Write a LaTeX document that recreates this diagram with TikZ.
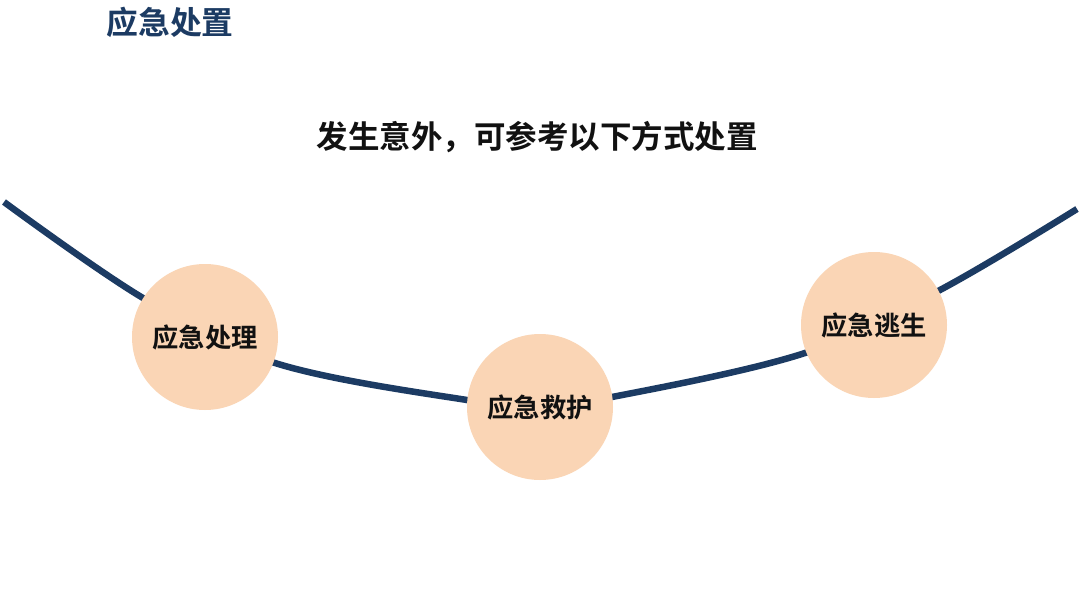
\documentclass[tikz,border=0pt]{standalone}
\usepackage{fontspec}
\newfontfamily\cjk{Noto Sans CJK SC}[BoldFont={Noto Sans CJK SC Bold}]
\definecolor{navy}{HTML}{1C3B63}
\definecolor{peach}{HTML}{FAD5B5}
\definecolor{ink}{HTML}{111111}
\begin{document}
\begin{tikzpicture}[x=1pt,y=-1pt,
  circ/.style={circle,fill=peach,minimum size=146pt,inner sep=0pt,text=ink,font=\cjk\bfseries\fontsize{26.3}{26.3}\selectfont},
  title/.style={text=navy,font=\cjk\bfseries\fontsize{31.8}{31.8}\selectfont,inner sep=0pt},
  subtitle/.style={text=ink,font=\cjk\bfseries\fontsize{31.5}{31.5}\selectfont,inner sep=0pt},
  arcline/.style={draw=navy,line width=6.5pt}]
\useasboundingbox[fill=white] (0,0) rectangle (1080,608);
\node[title] (t) at (170,22) {应急处置};
\node[subtitle] (s) at (537,137) {发生意外，可参考以下方式处置};
\draw[arcline] plot[smooth,tension=0.6] coordinates {(4,202) (143,298) (275,363) (467,400) (540,405) (612,397) (805,353) (940,290) (1077,209)};
\node[circ] (a) at (205,337) {应急处理};
\node[circ] (b) at (540,407) {应急救护};
\node[circ] (c) at (874,325) {应急逃生};
\end{tikzpicture}
\end{document}
